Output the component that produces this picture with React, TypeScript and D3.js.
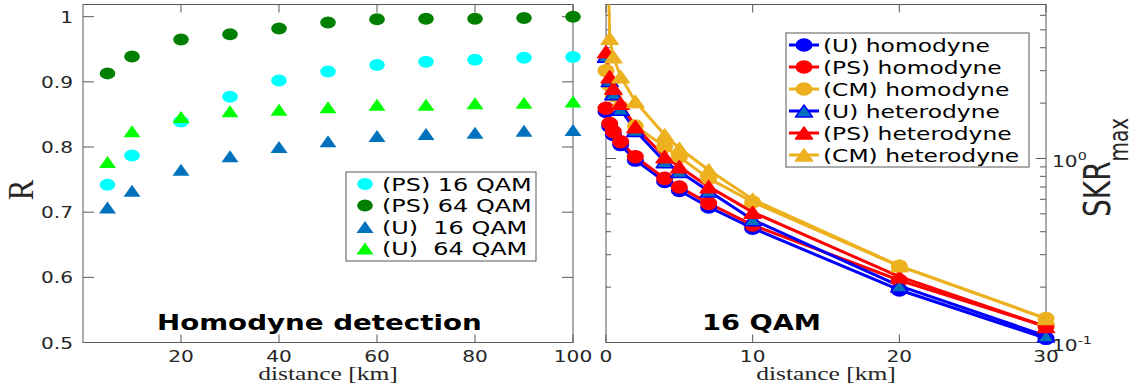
import * as d3 from 'd3';

// ---- left panel: R vs distance (homodyne detection)
const distL = [5, 10, 20, 30, 40, 50, 60, 70, 80, 90, 100];
const rPS16 = [0.742, 0.787, 0.839, 0.877, 0.902, 0.916, 0.926, 0.931, 0.934, 0.937, 0.938];
const rPS64 = [0.913, 0.939, 0.965, 0.973, 0.982, 0.991, 0.996, 0.997, 0.997, 0.998, 1.0];
const rU16 = [0.707, 0.733, 0.765, 0.786, 0.8, 0.809, 0.817, 0.82, 0.822, 0.825, 0.826];
const rU64 = [0.777, 0.824, 0.846, 0.855, 0.857, 0.861, 0.865, 0.865, 0.867, 0.868, 0.87];
const xTicksL = [20, 40, 60, 80, 100];
const yTicksL = [0.5, 0.6, 0.7, 0.8, 0.9, 1];

// ---- right panel: SKR_max vs distance (16 QAM)
const distR = [0, 0.25, 0.5, 1, 2, 4, 5, 7, 10, 20, 30];
const skrUHom = [1.8, 1.5, 1.35, 1.19, 0.98, 0.75, 0.67, 0.545, 0.418, 0.193, 0.1053];
const skrPSHom = [1.875, 1.55, 1.4, 1.234, 1.023, 0.78, 0.7, 0.57, 0.435, 0.218, 0.122];
const skrCMHom = [3.0, 2.5, 2.2, 1.9, 1.5, 1.16, 1.02, 0.78, 0.58, 0.26, 0.135];
const skrUHet = [3.6, 2.65, 2.25, 1.85, 1.42, 0.96, 0.85, 0.665, 0.465, 0.203, 0.1085];
const skrPSHet = [3.8, 2.78, 2.41, 1.995, 1.489, 1.023, 0.902, 0.703, 0.511, 0.228, 0.122];
const skrCMHet = [40, 4.5, 3.57, 2.78, 2.04, 1.343, 1.136, 0.866, 0.6, 0.261, 0.135];
const xTicksR = [0, 10, 20, 30];

const leftSeries = [
  { name: '(PS) 16 QAM', data: rPS16, color: '#00FFFF', shape: 'circle' },
  { name: '(PS) 64 QAM', data: rPS64, color: '#007F00', shape: 'circle' },
  { name: '(U)  16 QAM', data: rU16, color: '#0072BD', shape: 'tri' },
  { name: '(U)  64 QAM', data: rU64, color: '#00FF00', shape: 'tri' },
];

const rightSeries = [
  { name: '(U) homodyne', data: skrUHom, color: '#0000FF', face: '#0000FF', shape: 'circle' },
  { name: '(PS) homodyne', data: skrPSHom, color: '#FF0000', face: '#FF0000', shape: 'circle' },
  { name: '(CM) homodyne', data: skrCMHom, color: '#EDB120', face: '#EDB120', shape: 'circle' },
  { name: '(U) heterodyne', data: skrUHet, color: '#0000FF', face: '#0072BD', shape: 'tri' },
  { name: '(PS) heterodyne', data: skrPSHet, color: '#FF0000', face: '#FF0000', shape: 'tri' },
  { name: '(CM) heterodyne', data: skrCMHet, color: '#EDB120', face: '#EDB120', shape: 'tri' },
];

const SANS = 'DejaVu Sans, sans-serif';
const SERIF = 'Liberation Serif, Times New Roman, serif';
const AX = '#595959';
const TXT = '#262626';
const SX = 1.3; // the figure is stretched horizontally

const PL = { x0: 83, x1: 573, y0: 4.5, y1: 342.5 };
const PR = { x0: 606, x1: 1046, y0: 4.5, y1: 342.5 };

function triPath(cx: number, cy: number, w: number, h: number) {
  return `M${cx},${cy - h / 2}L${cx + w / 2},${cy + h / 2}L${cx - w / 2},${cy + h / 2}Z`;
}

function T(props: any) {
  const { x, y, sx = SX, children, ...rest } = props;
  return (
    <text transform={`translate(${x},${y}) scale(${sx},1)`} style={{ whiteSpace: 'pre' }} {...rest}>
      {children}
    </text>
  );
}

function Marker({ shape, cx, cy, fill, stroke, sw = 1 }: any) {
  return shape === 'circle' ? (
    <ellipse cx={cx} cy={cy} rx={7.8} ry={6} fill={fill} stroke={stroke} strokeWidth={sw} />
  ) : (
    <path d={triPath(cx, cy, 17, 12)} fill={fill} stroke={stroke} strokeWidth={sw} strokeLinejoin="round" />
  );
}

export default function App() {
  const xL = d3.scaleLinear().domain([0, 100]).range([PL.x0, PL.x1]);
  const yL = d3.scaleLinear().domain([0.5, 1.0187]).range([PL.y1, PL.y0]);
  const xR = d3.scaleLinear().domain([0, 30]).range([PR.x0, PR.x1]);
  const yR = d3.scaleLog().domain([0.1, 6.87]).range([PR.y1, PR.y0]);

  const minorR = [0.2, 0.3, 0.4, 0.5, 0.6, 0.7, 0.8, 0.9, 2, 3, 4, 5, 6];

  const line = d3
    .line<number>()
    .x((_, i) => xR(distR[i]))
    .y((d) => yR(d));

  return (
    <svg width={1137} height={390} style={{ position: 'fixed', left: 0, top: 0, background: '#fff' }}>
      <defs>
        <clipPath id="clipR">
          <rect x={PR.x0} y={PR.y0} width={PR.x1 - PR.x0} height={PR.y1 - PR.y0} />
        </clipPath>
      </defs>

      {/* ---------- left panel ---------- */}
      <rect x={PL.x0} y={PL.y0} width={PL.x1 - PL.x0} height={PL.y1 - PL.y0} fill="none" stroke={AX} strokeWidth={1} />
      {xTicksL.map((t) => (
        <g key={'xl' + t}>
          <line x1={xL(t)} x2={xL(t)} y1={PL.y1} y2={PL.y1 - 8} stroke={AX} />
          <line x1={xL(t)} x2={xL(t)} y1={PL.y0} y2={PL.y0 + 8} stroke={AX} />
          <T x={xL(t)} y={362} textAnchor="middle" fontFamily={SANS} fontSize={15.5} fill={TXT}>
            {t}
          </T>
        </g>
      ))}
      {yTicksL.map((t) => (
        <g key={'yl' + t}>
          <line x1={PL.x0} x2={PL.x0 + 11} y1={yL(t)} y2={yL(t)} stroke={AX} />
          <line x1={PL.x1} x2={PL.x1 - 11} y1={yL(t)} y2={yL(t)} stroke={AX} />
          <T x={PL.x0 - 10} y={yL(t) + 6} textAnchor="end" fontFamily={SANS} fontSize={15.5} fill={TXT}>
            {t}
          </T>
        </g>
      ))}
      {leftSeries.map((s) => (
        <g key={s.name}>
          {s.data.map((v, i) => (
            <Marker key={i} shape={s.shape} cx={xL(distL[i])} cy={yL(v)} fill={s.color} stroke="none" />
          ))}
        </g>
      ))}
      {/* legend left */}
      <rect x={346} y={172} width={190} height={89} fill="#fff" stroke={AX} />
      {leftSeries.map((s, i) => {
        const cy = 184 + i * 21.5;
        return (
          <g key={'ll' + s.name}>
            <Marker shape={s.shape} cx={365} cy={cy} fill={s.color} stroke="none" />
            <T x={382} y={cy + 6.5} sx={1.33} fontFamily={SANS} fontSize={18} fill="#000">
              {s.name}
            </T>
          </g>
        );
      })}
      <T x={157} y={330} sx={1.32} fontFamily={SANS} fontWeight="bold" fontSize={21} fill="#000">
        Homodyne detection
      </T>
      <T x={(PL.x0 + PL.x1) / 2} y={380} sx={1.42} textAnchor="middle" fontFamily={SERIF} fontSize={18} fill={TXT}>
        distance [km]
      </T>
      <text transform={`translate(33,190) rotate(-90) scale(1,1.15)`} textAnchor="middle" fontFamily={SERIF} fontSize={31} fill={TXT}>
        R
      </text>

      {/* ---------- right panel ---------- */}
      <rect x={PR.x0} y={PR.y0} width={PR.x1 - PR.x0} height={PR.y1 - PR.y0} fill="none" stroke={AX} strokeWidth={1} />
      {xTicksR.map((t) => (
        <g key={'xr' + t}>
          <line x1={xR(t)} x2={xR(t)} y1={PR.y1} y2={PR.y1 - 8} stroke={AX} />
          <line x1={xR(t)} x2={xR(t)} y1={PR.y0} y2={PR.y0 + 8} stroke={AX} />
          <T x={xR(t)} y={362} textAnchor="middle" fontFamily={SANS} fontSize={15.5} fill={TXT}>
            {t}
          </T>
        </g>
      ))}
      {[0.1, 1].map((t) => (
        <g key={'yr' + t}>
          <line x1={PR.x0} x2={PR.x0 + 10} y1={yR(t)} y2={yR(t)} stroke={AX} />
          <line x1={PR.x1} x2={PR.x1 - 10} y1={yR(t)} y2={yR(t)} stroke={AX} />
          <T x={1052} y={yR(t) + 8} fontFamily={SANS} fontSize={15.5} fill={TXT}>
            10
            <tspan dy={-7} fontSize={11}>
              {t === 1 ? '0' : '-1'}
            </tspan>
          </T>
        </g>
      ))}
      {minorR.map((t) => (
        <g key={'mr' + t}>
          <line x1={PR.x0} x2={PR.x0 + 5} y1={yR(t)} y2={yR(t)} stroke={AX} />
          <line x1={PR.x1} x2={PR.x1 - 6} y1={yR(t)} y2={yR(t)} stroke={AX} />
        </g>
      ))}
      <g clipPath="url(#clipR)">
        {rightSeries.map((s) => (
          <path key={'ln' + s.name} d={line(s.data) || ''} fill="none" stroke={s.color} strokeWidth={3} strokeLinejoin="round" />
        ))}
      </g>
      {rightSeries.map((s) => (
        <g key={'mk' + s.name}>
          {s.data.map((v, i) =>
            v > yR.domain()[1] ? null : (
              <Marker key={i} shape={s.shape} cx={xR(distR[i])} cy={yR(v)} fill={s.face} stroke={s.color} sw={1.5} />
            )
          )}
        </g>
      ))}
      {/* legend right */}
      <rect x={786} y={33} width={243} height={134} fill="#fff" stroke={AX} />
      {rightSeries.map((s, i) => {
        const cy = 45 + i * 22;
        return (
          <g key={'lr' + s.name}>
            <line x1={789} x2={819} y1={cy} y2={cy} stroke={s.color} strokeWidth={3} />
            <Marker shape={s.shape} cx={804} cy={cy} fill={s.face} stroke={s.color} sw={1.5} />
            <T x={823} y={cy + 6.5} sx={1.3} fontFamily={SANS} fontSize={18} fill="#000">
              {s.name}
            </T>
          </g>
        );
      })}
      <T x={702} y={330} fontFamily={SANS} fontWeight="bold" fontSize={21} fill="#000">
        16 QAM
      </T>
      <T x={(PR.x0 + PR.x1) / 2} y={380} sx={1.42} textAnchor="middle" fontFamily={SERIF} fontSize={18} fill={TXT}>
        distance [km]
      </T>
      <text transform={`translate(1110,217) rotate(-90) scale(1,1.3)`} fontFamily={SANS} fontSize={28} fill={TXT}>
        SKR
        <tspan dy={14} fontSize={20}>
          max
        </tspan>
      </text>
    </svg>
  );
}
